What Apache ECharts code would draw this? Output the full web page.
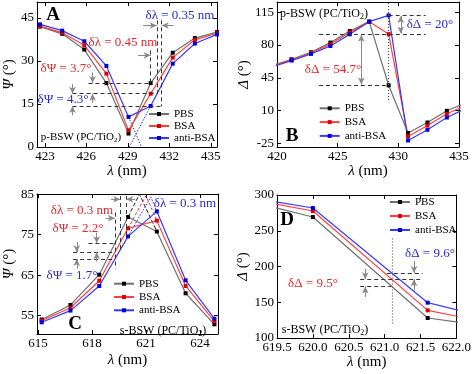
<!DOCTYPE html>
<html><head><meta charset="utf-8">
<script src="https://cdn.jsdelivr.net/npm/echarts@6/dist/echarts.min.js"></script>
<style>html,body{margin:0;padding:0;background:#fff}#c{width:474px;height:374px}</style>
</head><body><div id="c"></div>
<script>
// ---------------- data ----------------
const seriesNames = ['PBS', 'BSA', 'anti-BSA'];

// Panel A : p-BSW, Psi vs lambda
const lamA = [422.65, 424.25, 425.85, 427.45, 429.05, 430.65, 432.25, 433.85, 435.45];
const psiA_PBS  = [42.0, 39.5, 34.0, 22.3, 4.7, 22.3, 32.9, 38.0, 40.1];
const psiA_BSA  = [42.2, 39.9, 35.5, 25.6, 5.8, 18.6, 31.2, 37.4, 39.7];
const psiA_anti = [42.8, 40.6, 36.9, 28.3, 10.5, 14.3, 29.1, 36.1, 39.3];

// Panel B : p-BSW, Delta vs lambda
const lamB = [419.6, 421.2, 422.8, 424.4, 426.0, 427.6, 429.2, 430.8, 432.4, 434.0, 435.6];
const delB_PBS  = [57.8, 64.8, 72.3, 82.6, 95.0, 105.0, 37.0, -14.0, -2.8, 9.7, 18.5];
const delB_BSA  = [57.3, 64.3, 71.5, 81.0, 93.5, 105.0, 91.7, -17.7, -6.0, 6.5, 15.5];
const delB_anti = [56.8, 63.4, 70.5, 79.0, 91.5, 105.0, 111.7, -22.0, -10.6, 2.5, 12.5];

// Panel C : s-BSW, Psi vs lambda
const lamC = [615.2, 616.8, 618.4, 620.0, 621.6, 623.2, 624.8];
const psiC_PBS  = [54.0, 57.6, 65.1, 79.4, 75.8, 60.5, 52.8];
const psiC_BSA  = [53.7, 56.9, 63.6, 76.6, 78.5, 62.3, 53.5];
const psiC_anti = [53.3, 56.2, 62.3, 74.6, 80.8, 63.7, 54.2];

// Panel D : s-BSW, Delta vs lambda
const lamD = [618.4, 620.0, 621.6, 623.2];
const delD_PBS  = [309.5, 269.2, 128.0, 106.0];
const delD_BSA  = [307.7, 277.6, 138.7, 106.0];
const delD_anti = [308.7, 281.8, 149.4, 110.0];

// tick labels
const ticksAx = [423, 426, 429, 432, 435];
const ticksAy = [0, 15, 30, 45];
const ticksBx = [420, 425, 430, 435];
const ticksBy = [-25, 10, 45, 80, 115];
const ticksCx = [615, 618, 621, 624];
const ticksCy = [55, 65, 75, 85];
const ticksDx = [619.5, 620.0, 620.5, 621.0, 621.5, 622.0];
const ticksDy = [100, 150, 200, 250, 300];

// ---------------- styling ----------------
const FONT = 'Liberation Serif';
const RED = '#e5262b', BLUE = '#2a2ad8';
const COLORS = {
  'PBS': {line: '#707070', sym: '#000000'},
  'BSA': {line: '#ff4040', sym: '#e00000'},
  'anti-BSA': {line: '#3a3aff', sym: '#0000dd'}
};
const DASH = {color: '#333', type: [4, 3], width: 1};
const ARR = {color: '#888', width: 1, type: 'solid'};
const DOT = {color: '#555', type: [1, 2], width: 1.2};

const grids = [
  {left: 37, top: 2, width: 180, height: 145},
  {left: 277, top: 2, width: 182, height: 145},
  {left: 37, top: 194, width: 181, height: 140},
  {left: 277, top: 195, width: 183, height: 143}
];
const xr = [[422.43, 435.45], [420, 435], [614.94, 625.0], [619.5, 622.0]];
const yr = [[0, 50.6], [-29, 126], [50.4, 85.1], [100, 300]];
const xt = [ticksAx, ticksBx, ticksCx, ticksDx];
const yt = [ticksAy, ticksBy, ticksCy, ticksDy];
const xGap = [14, 15, 19, 17];
const yGap = [20, 21.5, 20, 22.5];
const yNames = ['{i|Ψ} (°)', '{i|Δ} (°)', '{i|Ψ} (°)', '{i|Δ} (°)'];

function nameStyle() {
  return {fontFamily: FONT, fontSize: 15, color: '#000',
    rich: {i: {fontFamily: FONT, fontSize: 15, fontStyle: 'italic', color: '#000'}}};
}
function mkAxis(isX, gi, mirror) {
  const r = isX ? xr[gi] : yr[gi];
  const ticks = isX ? xt[gi] : yt[gi];
  const ax = {
    type: 'value', gridIndex: gi, min: r[0], max: r[1],
    position: isX ? (mirror ? 'top' : 'bottom') : (mirror ? 'right' : 'left'),
    axisLine: {show: true, onZero: false, lineStyle: {color: '#000', width: 1}},
    axisTick: {show: true, inside: true, length: 4, customValues: ticks, lineStyle: {color: '#000'}},
    axisLabel: {show: !mirror, customValues: ticks, color: '#000', fontFamily: FONT, fontSize: 13, margin: 3,
      formatter: (gi === 3 && isX) ? (v => v.toFixed(1)) : (v => String(v))},
    splitLine: {show: false}
  };
  if (!mirror) {
    if (isX) {
      ax.name = '{i|λ} (nm)'; ax.nameLocation = 'middle'; ax.nameGap = xGap[gi];
    } else {
      ax.name = yNames[gi]; ax.nameLocation = 'middle'; ax.nameGap = yGap[gi]; ax.nameRotate = 90;
    }
    ax.nameTextStyle = nameStyle();
  }
  return ax;
}
const xAxes = [], yAxes = [];
for (let g = 0; g < 4; g++) { xAxes.push(mkAxis(true, g, false)); yAxes.push(mkAxis(false, g, false)); }
for (let g = 0; g < 4; g++) { xAxes.push(mkAxis(true, g, true)); yAxes.push(mkAxis(false, g, true)); }

function pairs(xs, ys) { return xs.map((x, i) => [x, ys[i]]); }
function mkSeries(name, xs, ys, gi, extra) {
  const c = COLORS[name];
  return Object.assign({
    type: 'line', name, xAxisIndex: gi, yAxisIndex: gi, data: pairs(xs, ys),
    symbol: 'rect', symbolSize: 4, showSymbol: true,
    lineStyle: {color: c.line, width: 1.2}, itemStyle: {color: c.sym},
    clip: true, animation: false, z: 3, emphasis: {disabled: true}
  }, extra || {});
}
function interp(xs, ys, x) {
  for (let i = 0; i < xs.length - 1; i++) {
    if (x >= xs[i] && x <= xs[i + 1]) return ys[i] + (ys[i + 1] - ys[i]) * (x - xs[i]) / (xs[i + 1] - xs[i]);
  }
  return null;
}
// intersection of line (a->b) and (c->d)
function intersect(a, b, c, d) {
  const m1 = (b[1] - a[1]) / (b[0] - a[0]), m2 = (d[1] - c[1]) / (d[0] - c[0]);
  const x = (c[1] - a[1] + m1 * a[0] - m2 * c[0]) / (m1 - m2);
  return [x, a[1] + m1 * (x - a[0])];
}
function L(p1, p2, style, s1, s2) {
  return [{coord: p1, symbol: s1 || 'none', lineStyle: style}, {coord: p2, symbol: s2 || 'none'}];
}
function mark(data) {
  return {silent: true, animation: false, symbol: ['none', 'none'], symbolSize: [5, 7],
    label: {show: false}, emphasis: {disabled: true}, data};
}

// ---------- Panel A annotations ----------
const markA = mark([
  L([426.15, 22.3], [430.65, 22.3], DASH),
  L([425.0, 18.6], [431.1, 18.6], DASH),
  L([425.0, 14.3], [431.45, 14.3], DASH),
  L([430.65, 33.7], [430.65, 22.3], DASH),
  L([431.1, 44.2], [431.1, 18.6], DASH),
  L([431.45, 44.2], [431.45, 14.3], DASH),
  L([429.75, 32], [430.65, 32], ARR, 'none', 'arrow'),
  L([430.1, 42.4], [431.1, 42.4], ARR, 'none', 'arrow'),
  L([432.3, 42.4], [431.45, 42.4], ARR, 'none', 'arrow'),
  L([426.45, 26.0], [426.45, 22.3], ARR, 'none', 'arrow'),
  L([426.45, 15.4], [426.45, 18.6], ARR, 'none', 'arrow'),
  L([425.0, 22.0], [425.0, 18.6], ARR, 'none', 'arrow'),
  L([425.0, 11.0], [425.0, 14.3], ARR, 'none', 'arrow')
]);
// blue dotted extrapolations of anti-BSA to zero
function zeroCross(p, q) { return p[0] + (0 - p[1]) * (q[0] - p[0]) / (q[1] - p[1]); }
const aP4 = [lamA[3], psiA_anti[3]], aP5 = [lamA[4], psiA_anti[4]], aP6 = [lamA[5], psiA_anti[5]], aP7 = [lamA[6], psiA_anti[6]];
const extA = [
  [aP5, [zeroCross(aP4, aP5), 0]],
  [aP6, [zeroCross(aP6, aP7), 0]]
];

// ---------- Panel B annotations ----------
const markB = mark([
  L([429.2, 111.7], [432.25, 111.7], DASH),
  L([423.45, 91.7], [432.25, 91.7], DASH),
  L([423.45, 37], [429.2, 37], DASH),
  L([426.95, 91.0], [426.95, 37.7], ARR, 'arrow', 'arrow'),
  L([430.2, 111.0], [430.2, 92.4], ARR, 'arrow', 'arrow'),
  L([429.2, 125], [429.2, 20], DOT)
]);

// ---------- Panel C annotations ----------
const lamC0 = 619.27;
const vCP = interp(lamC, psiC_PBS, lamC0), vCB = interp(lamC, psiC_BSA, lamC0), vCA = interp(lamC, psiC_anti, lamC0);
const markC = mark([
  L([617.8, vCP], [lamC0, vCP], DASH),
  L([616.95, vCB], [lamC0, vCB], DASH),
  L([616.95, vCA], [lamC0, vCA], DASH),
  L([lamC0, 80.5], [lamC0, 66.5], DASH),
  L([619.57, 84.6], [619.57, 71.0], DASH),
  L([619.9, 84.6], [619.9, 74.5], DASH),
  L([619.05, 83.8], [619.57, 83.8], ARR, 'none', 'arrow'),
  L([620.4, 83.8], [619.9, 83.8], ARR, 'none', 'arrow'),
  L([618.75, 79.1], [lamC0, 79.1], ARR, 'none', 'arrow'),
  L([618.26, 75.5], [618.26, vCP], ARR, 'none', 'arrow'),
  L([618.26, 68.4], [618.26, vCB], ARR, 'none', 'arrow'),
  L([617.15, 73.2], [617.15, vCB], ARR, 'none', 'arrow'),
  L([617.15, 66.6], [617.15, vCA], ARR, 'none', 'arrow')
]);
function triC(ys) {
  const pk = intersect([lamC[2], ys[2]], [lamC[3], ys[3]], [lamC[5], ys[5]], [lamC[4], ys[4]]);
  return [[lamC[3], ys[3]], pk, [lamC[4], ys[4]]];
}
const triStyles = {
  'PBS': {color: '#222', type: [4, 2], width: 1},
  'BSA': {color: '#ff3030', type: [3, 2], width: 1},
  'anti-BSA': {color: '#2a2aff', type: [1.5, 1.5], width: 1}
};

// ---------- Panel D annotations ----------
const lamD0 = 621.1;
const vDP = interp(lamD, delD_PBS, lamD0), vDB = interp(lamD, delD_BSA, lamD0), vDA = interp(lamD, delD_anti, lamD0);
const markD = mark([
  L([lamD0, 239], [lamD0, 120], DOT),
  L([621.03, vDA], [621.53, vDA], DASH),
  L([620.66, vDB], [621.53, vDB], DASH),
  L([620.66, vDP], [621.09, vDP], DASH),
  L([620.73, 197], [620.73, vDB], ARR, 'none', 'arrow'),
  L([620.73, 157.5], [620.73, vDP], ARR, 'none', 'arrow'),
  L([621.41, 207.5], [621.41, vDA], ARR, 'none', 'arrow'),
  L([621.41, 166.5], [621.41, vDB], ARR, 'none', 'arrow')
]);

// ---------- series ----------
const series = [];
const sets = [
  [lamA, [psiA_PBS, psiA_BSA, psiA_anti], markA],
  [lamB, [delB_PBS, delB_BSA, delB_anti], markB],
  [lamC, [psiC_PBS, psiC_BSA, psiC_anti], markC],
  [lamD, [delD_PBS, delD_BSA, delD_anti], markD]
];
sets.forEach((s, gi) => {
  seriesNames.forEach((nm, k) => {
    const extra = (k === 0) ? {markLine: s[2]} : {};
    series.push(mkSeries(nm, s[0], s[1][k], gi, extra));
  });
});
// extrapolation helper lines (not in legend)
extA.forEach(seg => series.push({type: 'line', name: '_extA', xAxisIndex: 0, yAxisIndex: 0, data: seg,
  symbol: 'none', lineStyle: {color: '#2a2aff', type: [1.5, 1.5], width: 1}, clip: true, animation: false, z: 2,
  silent: true, emphasis: {disabled: true}}));
[psiC_PBS, psiC_BSA, psiC_anti].forEach((ys, k) => series.push({type: 'line', name: '_triC' + k, xAxisIndex: 2, yAxisIndex: 2,
  data: triC(ys), symbol: 'none', lineStyle: triStyles[seriesNames[k]], clip: true, animation: false, z: 2,
  silent: true, emphasis: {disabled: true}}));

// ---------- legends ----------
function mkLegend(left, top, gap) {
  return {left, top, orient: 'vertical', padding: 0, itemWidth: 20, itemHeight: 5, itemGap: gap,
    data: seriesNames, selectedMode: false,
    textStyle: {fontFamily: FONT, fontSize: 11, color: '#000', lineHeight: 12, padding: [0, 0, 0, 0]}};
}
const legends = [mkLegend(148, 108, 0), mkLegend(318.7, 102.3, 1.8), mkLegend(113, 277.7, 1.3), mkLegend(389, 196, 2)];

// ---------- texts ----------
function txt(x, y, text, color, size, bold) {
  return {type: 'text', x, y, z: 50, silent: true, style: {text, fill: color, fontFamily: FONT, fontSize: size,
    fontWeight: bold ? 'bold' : 'normal', align: 'center', verticalAlign: 'middle', lineHeight: size + 2,
    rich: {s: {fontFamily: FONT, fontSize: Math.round(size * 0.65), lineHeight: Math.round(size * 0.65),
      verticalAlign: 'bottom', fill: color}}}};
}
const texts = [
  txt(53, 15, 'A', '#000', 19, true),
  txt(123, 43, 'δλ = 0.45 nm', RED, 13),
  txt(180, 16, 'δλ = 0.35 nm', BLUE, 13),
  txt(66, 69, 'δΨ = 3.7°', RED, 13),
  txt(63, 100, 'δΨ = 4.3°', BLUE, 13),
  txt(81, 137, 'p-BSW (PC/TiO{s|2})', '#000', 11),

  txt(324, 14, 'p-BSW (PC/TiO{s|2})', '#000', 12),
  txt(333, 70, 'δΔ = 54.7°', RED, 13),
  txt(430, 25, 'δΔ = 20°', BLUE, 13),
  txt(292, 136, 'B', '#000', 19, true),

  txt(82, 211, 'δλ = 0.3 nm', RED, 13),
  txt(78, 229, 'δΨ = 2.2°', RED, 13),
  txt(185, 204, 'δλ = 0.3 nm', BLUE, 13),
  txt(72, 276, 'δΨ = 1.7°', BLUE, 13),
  txt(75, 324, 'C', '#000', 19, true),
  txt(163, 331, 's-BSW (PC/TiO{s|2})', '#000', 12),

  txt(287, 220, 'D', '#000', 19, true),
  txt(313, 284, 'δΔ = 9.5°', RED, 13),
  txt(430, 254, 'δΔ = 9.6°', BLUE, 13),
  txt(325, 330, 's-BSW (PC/TiO{s|2})', '#000', 12)
];

const chart = echarts.init(document.getElementById('c'), null, {renderer: 'canvas'});
chart.setOption({
  backgroundColor: '#fff',
  animation: false,
  grid: grids,
  xAxis: xAxes,
  yAxis: yAxes,
  legend: legends,
  series,
  graphic: texts
});
</script></body></html>
